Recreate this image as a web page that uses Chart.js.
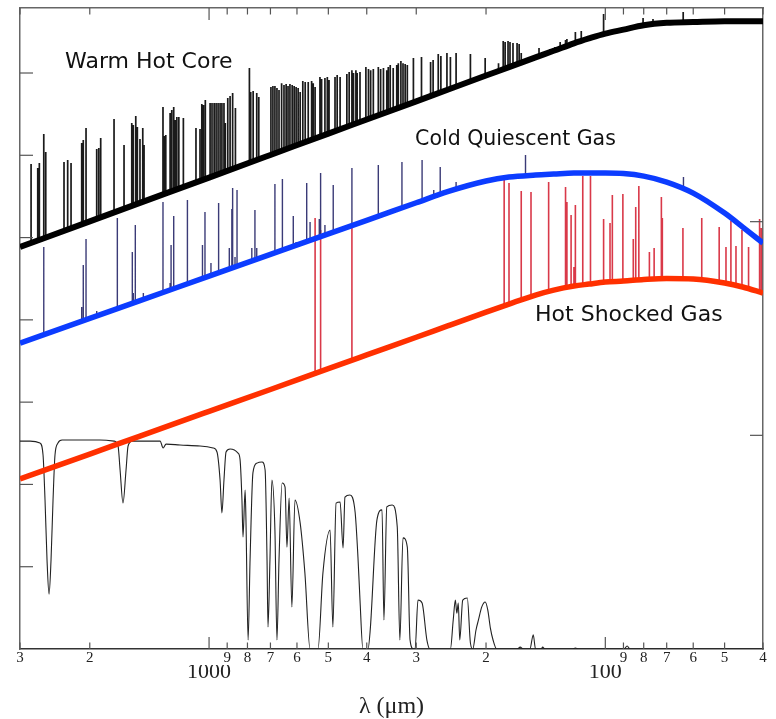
<!DOCTYPE html>
<html><head><meta charset="utf-8">
<script src="https://cdn.jsdelivr.net/npm/chart.js@4/dist/chart.umd.min.js"></script>
<style>html,body{margin:0;padding:0;background:#fff}canvas{display:block}</style>
</head><body>
<canvas id="c" width="776" height="719"></canvas>
<script>
// ---------- DATA (wavelength in micrometres) ----------
const contWaves = [3000,2000,1500,1000,700,500,400,300,250,200,175,150,135,120,110,100,90,80,70,60,50,45,40];
const warmCont  = [4.885,5.197,5.418,5.729,6.004,6.264,6.435,6.656,6.797,6.969,7.071,7.190,7.270,7.361,7.42,7.479,7.527,7.58,7.61,7.62,7.63,7.63,7.63];
const coldCont  = [3.718,4.018,4.231,4.531,4.795,5.044,5.209,5.423,5.558,5.687,5.735,5.760,5.772,5.784,5.784,5.784,5.778,5.747,5.675,5.541,5.298,5.128,4.933];
const hotCont   = [2.066,2.369,2.585,2.888,3.154,3.407,3.574,3.789,3.926,4.093,4.192,4.302,4.362,4.411,4.435,4.460,4.472,4.490,4.502,4.496,4.447,4.399,4.326];

const warmLineWave = [2813,2706,2681,2613,2583,2323,2274,2230,2096,2077,2044,1921,1898,1877,1737,1639,1567,1553,1531,1517,1494,1470,1459,1307,1297,1286,1254,1242,1228,1218,1206,1192,1161,1079,1054,1043,1033,1022,994,983,971,960,949,938,928,917,910,897,885,872,858,791,785,774,758,749,698,690,682,674,666,656,647,639,632,625,617,610,603,596,589,580,572,562,551,546,540,525,520,510,503,498,481,475,467,449,443,436,432,426,423,416,402,396,391,385,374,369,363,356,353,349,343,336,333,328,324,320,316,305,291,276,272,264,260,251,246,238,219,201,186,181,179,176,174,171,167,165,163,147,138,134,130,126,125,119,115,101,80.3,75.8,63.6];
const warmLineTop  = [5.893,5.845,5.905,6.258,6.039,5.917,5.942,5.905,6.148,6.185,6.331,6.075,6.088,6.209,6.440,6.124,6.391,6.367,6.477,6.343,6.197,6.331,6.124,6.586,6.233,6.246,6.513,6.549,6.586,6.428,6.464,6.464,6.452,6.331,6.319,6.622,6.610,6.671,6.634,6.634,6.634,6.634,6.634,6.634,6.634,6.634,6.391,6.695,6.720,6.756,6.574,7.060,6.768,6.780,6.756,6.707,6.829,6.841,6.841,6.817,6.792,6.877,6.853,6.865,6.841,6.865,6.853,6.841,6.829,6.817,6.768,6.902,6.890,6.890,6.902,6.877,6.829,6.950,6.926,6.938,6.950,6.914,6.950,6.975,6.950,6.987,7.011,7.035,6.999,7.035,6.999,7.011,7.072,7.048,7.035,7.048,7.072,7.048,7.060,7.035,7.072,7.096,7.060,7.096,7.120,7.145,7.120,7.108,7.096,7.181,7.193,7.133,7.157,7.230,7.206,7.242,7.193,7.242,7.230,7.181,7.120,7.388,7.376,7.388,7.376,7.364,7.364,7.351,7.242,7.303,7.291,7.315,7.376,7.400,7.412,7.497,7.509,7.716,7.667,7.655,7.740];

const coldLineWave = [2613,2096,2077,2044,1921,1704,1562,1553,1535,1465,1307,1254,1247,1228,1134,1039,1024,989,946,889,876,872,860,850,780,766,758,682,653,613,603,567,556,527,523,510,486,436,374,326,290,271,261,238,159,63.5];
const coldLineTop  = [4.885,4.156,4.666,4.982,4.107,5.237,4.824,4.326,5.152,4.326,5.431,4.447,4.909,5.261,5.456,4.909,5.310,4.690,5.419,4.873,5.346,5.602,4.763,5.577,4.873,5.334,4.873,5.650,5.711,5.261,4.945,5.662,5.188,5.225,5.784,5.152,5.638,5.845,5.881,5.917,5.942,5.577,5.857,5.675,6.003,5.735];

const hotLineWave = [540,523,436,180,175,163,154,139,126,125,122,120,119,114,109,101,97.3,96.0,90.3,85.0,83.8,82.3,77.4,75.3,72.2,71.8,63.7,57.1,51.6,49.6,48.2,46.8,45.2,43.5,40.8,40.4];
const hotLineTop  = [5.237,5.091,5.128,5.760,5.662,5.565,5.553,5.675,5.614,5.432,5.274,4.642,5.395,5.747,5.747,5.225,5.176,5.517,5.529,4.982,5.371,5.626,4.824,4.873,5.492,5.237,5.116,5.237,5.128,4.885,5.201,4.897,5.091,4.885,5.225,5.116];

const atmWave  = [3000,2830,2671,2624,2594,2564,2534,2505,2476,2448,2406,2350,2117,1885,1737,1697,1677,1649,1620,1601,1564,1329,1306,1284,1184,1054,977,955,938,928,917,906,885,845,835,826,821,811,807,797,788,775,757,735,722,714,710,702,694,682,674,666,654,643,636,628,618,607,589,573,556,531,516,495,487,478,467,459,454,441,428,421,416,409,397,392,377,366,362,356,345,335,330,324,316,311,305,302,297,290,282,277,246,242,239,237,235,233,229,223,219,216,212,209,205,201,198,195,192,188,167,164,161,155,152,150,145,144,142,121,119,117,89.7,88.1,86.6,40];
const atmTrans = [0.973,0.973,0.964,0.908,0.697,0.417,0.257,0.417,0.697,0.908,0.964,0.978,0.978,0.978,0.973,0.950,0.838,0.683,0.838,0.950,0.973,0.973,0.941,0.959,0.955,0.950,0.941,0.922,0.791,0.637,0.791,0.922,0.936,0.917,0.885,0.697,0.524,0.744,0.604,0.042,0.417,0.824,0.870,0.875,0.838,0.417,0.103,0.417,0.791,0.557,0.042,0.417,0.777,0.758,0.477,0.707,0.197,0.697,0.590,0.356,0,0,0.356,0.557,0.103,0.683,0.688,0.473,0.711,0.721,0.641,0.431,0.229,0,0,0.089,0.604,0.651,0.136,0.665,0.674,0.571,0.042,0.520,0.477,0.042,0,0,0.229,0.215,0.042,0,0,0.136,0.229,0.168,0.215,0.042,0.229,0.239,0.028,0,0.089,0.136,0.197,0.220,0.183,0.098,0.042,0,0,0.009,0,0,0.066,0,0,0.009,0,0,0.005,0,0,0.014,0,0];

const xMinorTicks  = [3000,2000,900,800,700,600,500,400,300,200,90,80,70,60,50,40];
const xMinorLabels = ['3','2','9','8','7','6','5','4','3','2','9','8','7','6','5','4'];
const xMajorTicks  = [1000,100];
const xMajorLabels = ['1000','100'];
const yTicks  = [1,2,3,4,5,6,7];
const y2Ticks = [1,2];

const seriesNames = ['Warm Hot Core','Cold Quiescent Gas','Hot Shocked Gas'];
const nameAnchorWave  = [2309, 302, 150.4];
const nameAnchorLevel = [7.133, 6.185, 4.058];

// ---------- helpers ----------
function contAt(ws, vs, w){
  const lw = Math.log(w);
  for (let i=0;i<ws.length-1;i++){
    const a=Math.log(ws[i]), b=Math.log(ws[i+1]);
    if (lw<=a && lw>=b){ const t=(lw-a)/(b-a); return vs[i]+t*(vs[i+1]-vs[i]); }
  }
  return vs[vs.length-1];
}
function lineSegments(ws, tops, cw, cv){
  const out=[];
  ws.forEach((w,i)=>{ out.push({x:w,y:contAt(cw,cv,w)},{x:w,y:tops[i]},{x:w,y:null}); });
  return out;
}
const pairs = (xs, ys) => xs.map((x,i)=>({x, y:ys[i]}));

const STYLE = {
  nameFont: [22, 20.5, 22],
  minorTick: 6.5, majorTick: 12, yTick: 13,
  frame: '#666'
};

const inTicks = {
  id:'inTicks',
  afterDatasetsDraw(chart){
    const {ctx, chartArea:a, scales} = chart;
    ctx.save();
    ctx.strokeStyle = '#555'; ctx.lineWidth = 1.2;
    const seg = (x0,y0,x1,y1)=>{ctx.beginPath();ctx.moveTo(x0,y0);ctx.lineTo(x1,y1);ctx.stroke();};
    xMinorTicks.forEach(v=>{const p=scales.x.getPixelForValue(v); seg(p,a.bottom,p,a.bottom-STYLE.minorTick); seg(p,a.top,p,a.top+STYLE.minorTick);});
    xMajorTicks.forEach(v=>{const p=scales.x.getPixelForValue(v); seg(p,a.bottom,p,a.bottom-STYLE.majorTick); seg(p,a.top,p,a.top+STYLE.majorTick);});
    yTicks.forEach(v=>{const p=scales.y.getPixelForValue(v); seg(a.left,p,a.left+STYLE.yTick,p);});
    y2Ticks.forEach(v=>{const p=scales.y2.getPixelForValue(v); seg(a.right,p,a.right-STYLE.yTick,p);});
    ctx.restore();
  }
};
const names = {
  id:'names',
  afterDatasetsDraw(chart){
    const {ctx, scales} = chart;
    ctx.save();
    ctx.fillStyle='#111'; ctx.textAlign='left'; ctx.textBaseline='middle';
    seriesNames.forEach((t,i)=>{
      ctx.font = STYLE.nameFont[i]+'px "DejaVu Sans"';
      ctx.fillText(t, scales.x.getPixelForValue(nameAnchorWave[i]), scales.y.getPixelForValue(nameAnchorLevel[i]));
    });
    ctx.restore();
  }
};

const logX = (extra) => Object.assign({type:'logarithmic', axis:'x', reverse:true, min:40, max:3000}, extra);
const noGrid = {display:true, drawOnChartArea:false, drawTicks:false};

new Chart(document.getElementById('c'), {
  type:'line',
  data:{datasets:[
    {label:seriesNames[0], data:pairs(contWaves,warmCont), borderColor:'#000', borderWidth:6, cubicInterpolationMode:'monotone', order:0, xAxisID:'x', yAxisID:'y'},
    {label:seriesNames[1], data:pairs(contWaves,coldCont), borderColor:'#0c3cff', borderWidth:5.5, cubicInterpolationMode:'monotone', order:0, xAxisID:'x', yAxisID:'y'},
    {label:seriesNames[2], data:pairs(contWaves,hotCont), borderColor:'#ff3000', borderWidth:5.5, cubicInterpolationMode:'monotone', order:0, xAxisID:'x', yAxisID:'y'},
    {label:'warm lines', data:lineSegments(warmLineWave,warmLineTop,contWaves,warmCont), borderColor:'#1a1a1a', borderWidth:1.7, order:1, xAxisID:'x', yAxisID:'y'},
    {label:'cold lines', data:lineSegments(coldLineWave,coldLineTop,contWaves,coldCont), borderColor:'rgba(48,48,112,0.95)', borderWidth:1.4, order:1, xAxisID:'x', yAxisID:'y'},
    {label:'hot lines', data:lineSegments(hotLineWave,hotLineTop,contWaves,hotCont), borderColor:'rgba(214,40,58,0.92)', borderWidth:1.6, order:1, xAxisID:'x', yAxisID:'y'},
    {label:'atmosphere', data:pairs(atmWave,atmTrans), borderColor:'#222', borderWidth:1.1, cubicInterpolationMode:'monotone', order:2, xAxisID:'x', yAxisID:'y2'}
  ]},
  options:{
    responsive:false, animation:false, devicePixelRatio:1,
    layout:{padding:{left:20,right:13,top:8,bottom:0}},
    elements:{point:{radius:0}, line:{fill:false, borderCapStyle:'butt', borderJoinStyle:'round'}},
    plugins:{legend:{display:false}, tooltip:{enabled:false}},
    scales:{
      x: logX({position:'bottom',
        afterBuildTicks:s=>{s.ticks = xMinorTicks.map(v=>({value:v}));},
        afterFit:s=>{s.height=16;},
        ticks:{autoSkip:false, maxRotation:0, minRotation:0, padding:0, color:'#222',
          font:{family:'"Liberation Serif", "DejaVu Serif", serif', size:15, lineHeight:1.2},
          callback:(v)=>xMinorLabels[xMinorTicks.indexOf(v)]},
        grid:noGrid, border:{display:true, color:'#333', width:1.5}}),
      x2: logX({position:'bottom',
        afterBuildTicks:s=>{s.ticks = xMajorTicks.map(v=>({value:v}));},
        afterFit:s=>{s.height=54;},
        ticks:{autoSkip:false, maxRotation:0, minRotation:0, padding:-4, color:'#222',
          font:{family:'"Liberation Serif", "DejaVu Serif", serif', size:22, lineHeight:1},
          callback:(v)=>xMajorLabels[xMajorTicks.indexOf(v)]},
        grid:{display:false, drawTicks:false}, border:{display:false},
        title:{display:true, text:'λ (μm)', color:'#222', padding:{top:0,bottom:0},
          font:{family:'"Liberation Serif", "DejaVu Serif", serif', size:24, lineHeight:1}}}),
      xt: logX({position:'top',
        afterFit:s=>{s.height=0;},
        ticks:{display:false}, grid:noGrid, border:{display:true, color:STYLE.frame, width:1.5}}),
      y: {type:'linear', axis:'y', position:'left', min:0, max:7.79,
        afterFit:s=>{s.width=0;},
        ticks:{display:false}, grid:noGrid, border:{display:true, color:STYLE.frame, width:1.5}},
      y2:{type:'linear', axis:'y', position:'right', min:0, max:3,
        afterFit:s=>{s.width=0;},
        ticks:{display:false}, grid:noGrid, border:{display:true, color:STYLE.frame, width:1.5}}
    }
  },
  plugins:[inTicks, names]
});
</script>
</body></html>
